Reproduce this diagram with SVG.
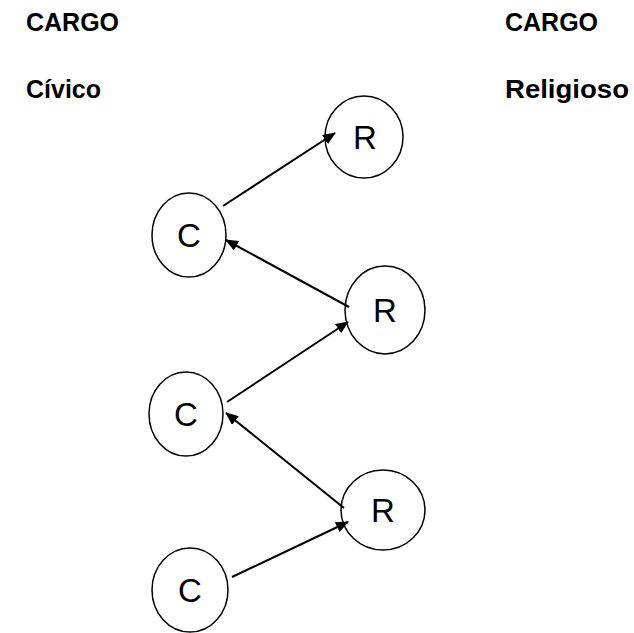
<svg xmlns="http://www.w3.org/2000/svg" width="634" height="633" viewBox="0 0 634 633">
<style>
.hdr{font-family:"Liberation Sans",Arial,sans-serif;font-weight:bold;font-size:25px;fill:#000}
.n ellipse{fill:#fff;stroke:#000;stroke-width:1.5}
.n text{font-family:"Liberation Sans",Arial,sans-serif;font-size:33px;fill:#000;text-anchor:middle}
.e line{stroke:#000;stroke-width:2;marker-end:url(#ah)}
</style>
<defs>
<marker id="ah" markerWidth="13" markerHeight="11" refX="12" refY="5.5" orient="auto" markerUnits="userSpaceOnUse" viewBox="0 0 13 11">
<path d="M0,0 L13,5.5 L0,11 z" fill="#000"/>
</marker>
</defs>
<rect width="634" height="633" fill="#fff"/>
<g id="headers">
<text class="hdr" x="26" y="31">CARGO</text>
<text class="hdr" x="26" y="98">Cívico</text>
<text class="hdr" x="505" y="31">CARGO</text>
<text class="hdr" x="505" y="98" textLength="124" lengthAdjust="spacingAndGlyphs">Religioso</text>
</g>
<g id="r1" class="n"><ellipse cx="364" cy="137" rx="39" ry="41"/><text x="365" y="149">R</text></g>
<g id="c1" class="n"><ellipse cx="189" cy="235" rx="37" ry="42"/><text x="189" y="247">C</text></g>
<g id="r2" class="n"><ellipse cx="385" cy="310" rx="40" ry="44"/><text x="385" y="322">R</text></g>
<g id="c2" class="n"><ellipse cx="186" cy="414" rx="37" ry="42"/><text x="186" y="426">C</text></g>
<g id="r3" class="n"><ellipse cx="383" cy="510" rx="42" ry="40"/><text x="383" y="522">R</text></g>
<g id="c3" class="n"><ellipse cx="190" cy="590" rx="38" ry="42"/><text x="190" y="602">C</text></g>
<g id="connectors" class="e">
<line x1="223" y1="206" x2="335" y2="133"/>
<line x1="349" y1="307" x2="226" y2="240"/>
<line x1="227" y1="402" x2="348" y2="322"/>
<line x1="344" y1="508" x2="226" y2="413"/>
<line x1="232" y1="577" x2="348" y2="522"/>
</g>
</svg>
